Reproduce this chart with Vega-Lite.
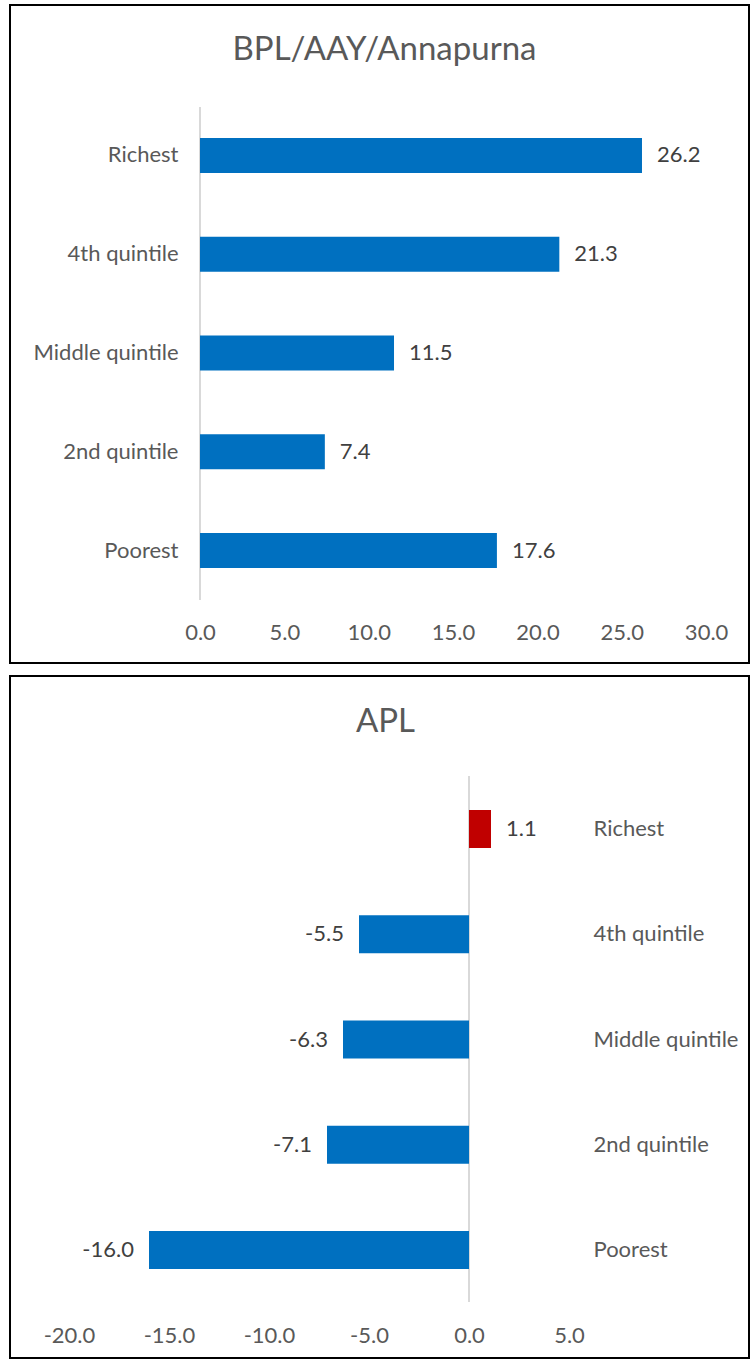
{
  "$schema": "https://vega.github.io/schema/vega-lite/v6.json",
  "padding": {"left": 9, "top": 4, "right": 0, "bottom": 0},
  "spacing": 11,
  "background": "#FFFFFF",
  "config": {
    "font": "Lato",
    "locale": {"number": {"decimal": ".", "thousands": ",", "grouping": [3], "currency": ["$", ""], "minus": "-"}},
    "view": {"stroke": "#000000", "strokeWidth": 2},
    "axis": {"grid": false, "domain": false, "ticks": false, "labelFont": "Lato", "labelFontSize": 22, "labelColor": "#595959", "labelPadding": 0, "title": null}
  },
  "datasets": {
    "bpl": [
      {"group": "Richest", "value": 26.2},
      {"group": "4th quintile", "value": 21.3},
      {"group": "Middle quintile", "value": 11.5},
      {"group": "2nd quintile", "value": 7.4},
      {"group": "Poorest", "value": 17.6}
    ],
    "apl": [
      {"group": "Richest", "value": 1.1},
      {"group": "4th quintile", "value": -5.5},
      {"group": "Middle quintile", "value": -6.3},
      {"group": "2nd quintile", "value": -7.1},
      {"group": "Poorest", "value": -16.0}
    ]
  },
  "vconcat": [
    {
      "width": 739,
      "height": 658,
      "title": {"text": "BPL/AAY/Annapurna", "fontSize": 33, "font": "Lato", "fontWeight": "normal", "color": "#595959", "anchor": "middle", "frame": "group", "baseline": "middle", "offset": -78, "dx": 5},
      "data": {"name": "bpl"},
      "layer": [
        {
          "data": {"values": [{"line": "zero"}]},
          "mark": {"type": "rule", "color": "#D9D9D9", "strokeWidth": 2},
          "encoding": {
            "x": {"datum": 0, "type": "quantitative"},
            "y": {"datum": "Richest", "type": "nominal", "bandPosition": -0.886},
            "y2": {"datum": "Poorest", "bandPosition": 1.914}
          }
        },
        {
          "mark": {"type": "bar", "color": "#0070C0"},
          "encoding": {
            "x": {"field": "value", "type": "quantitative",
              "scale": {"domain": [-11.263, 32.543], "nice": false, "zero": false},
              "axis": {"orient": "bottom", "values": [0, 5, 10, 15, 20, 25, 30], "format": ".1f", "offset": -31, "labelBaseline": "middle"}},
            "y": {"field": "group", "type": "nominal",
              "scale": {"domain": ["Richest", "4th quintile", "Middle quintile", "2nd quintile", "Poorest"], "range": [133, 563], "paddingInner": 0.6456, "paddingOuter": 0},
              "axis": {"orient": "left", "offset": -168, "labelAlign": "right", "labelBaseline": "middle"}}
          }
        },
        {
          "mark": {"type": "text", "align": "left", "baseline": "middle", "dx": 15, "fontSize": 22, "color": "#404040", "font": "Lato"},
          "encoding": {
            "x": {"field": "value", "type": "quantitative"},
            "y": {"field": "group", "type": "nominal"},
            "text": {"field": "value", "type": "quantitative", "format": ".1f"}
          }
        }
      ]
    },
    {
      "width": 739,
      "height": 682,
      "title": {"text": "APL", "fontSize": 33, "font": "Lato", "fontWeight": "normal", "color": "#595959", "anchor": "middle", "frame": "group", "baseline": "middle", "offset": -79, "dx": 6},
      "data": {"name": "apl"},
      "layer": [
        {
          "data": {"values": [{"line": "zero"}]},
          "mark": {"type": "rule", "color": "#D9D9D9", "strokeWidth": 2},
          "encoding": {
            "x": {"datum": 0, "type": "quantitative"},
            "y": {"datum": "Richest", "type": "nominal", "bandPosition": -0.895},
            "y2": {"datum": "Poorest", "bandPosition": 1.868}
          }
        },
        {
          "mark": {"type": "bar"},
          "encoding": {
            "x": {"field": "value", "type": "quantitative",
              "scale": {"domain": [-22.95, 14.0], "nice": false, "zero": false},
              "axis": {"orient": "bottom", "values": [-20, -15, -10, -5, 0, 5], "format": ".1f", "offset": -23, "labelBaseline": "middle"}},
            "y": {"field": "group", "type": "nominal",
              "scale": {"domain": ["Richest", "4th quintile", "Middle quintile", "2nd quintile", "Poorest"], "range": [134, 593], "paddingInner": 0.639, "paddingOuter": 0},
              "axis": {"orient": "right", "offset": -156, "labelAlign": "left", "labelBaseline": "middle"}},
            "color": {"condition": {"test": "datum.value > 0", "value": "#C00000"}, "value": "#0070C0"}
          }
        },
        {
          "transform": [{"filter": "datum.value > 0"}],
          "mark": {"type": "text", "align": "left", "baseline": "middle", "dx": 15, "fontSize": 22, "color": "#404040", "font": "Lato"},
          "encoding": {
            "x": {"field": "value", "type": "quantitative"},
            "y": {"field": "group", "type": "nominal"},
            "text": {"field": "value", "type": "quantitative", "format": ".1f"}
          }
        },
        {
          "transform": [{"filter": "datum.value < 0"}],
          "mark": {"type": "text", "align": "right", "baseline": "middle", "dx": -15, "fontSize": 22, "color": "#404040", "font": "Lato"},
          "encoding": {
            "x": {"field": "value", "type": "quantitative"},
            "y": {"field": "group", "type": "nominal"},
            "text": {"field": "value", "type": "quantitative", "format": ".1f"}
          }
        }
      ]
    }
  ]
}
